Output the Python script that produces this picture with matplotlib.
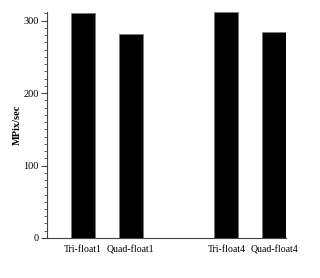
import matplotlib.pyplot as plt
from matplotlib.ticker import MultipleLocator

plt.rcParams['font.family'] = ['Liberation Serif', 'DejaVu Serif']

labels = ["Tri-float1", "Quad-float1", "Tri-float4", "Quad-float4"]
positions = [0, 1, 3, 4]
mpix = [311, 282, 312, 284]

fig = plt.figure(figsize=(3.2, 2.78), dpi=100)
ax = fig.add_axes([0.147, 0.144, 0.747, 0.813])

ax.bar(positions, mpix, width=0.5, color='black', edgecolor='#777777', linewidth=0.5)

ax.set_xlim(-0.75, 4.25)
ax.set_ylim(0, 312)
ax.set_xticks(positions)
ax.set_xticklabels(labels, fontsize=7)
ax.tick_params(axis='x', length=0, pad=5)
ax.yaxis.set_major_locator(MultipleLocator(100))
ax.yaxis.set_minor_locator(MultipleLocator(10))
ax.tick_params(axis='y', which='major', length=4.5, width=0.8, labelsize=7.5, pad=1.5, color='#444444')
ax.tick_params(axis='y', which='minor', length=2.5, width=0.6, color='#444444')
ax.spines['top'].set_visible(False)
ax.spines['right'].set_visible(False)
ax.spines['left'].set_color('#444444')
ax.spines['bottom'].set_color('#444444')
ax.set_ylabel("MPix/sec", fontsize=7.5, fontweight='bold')
ax.yaxis.set_label_coords(-0.105, 0.5)

fig.savefig("out.png", dpi=100)
